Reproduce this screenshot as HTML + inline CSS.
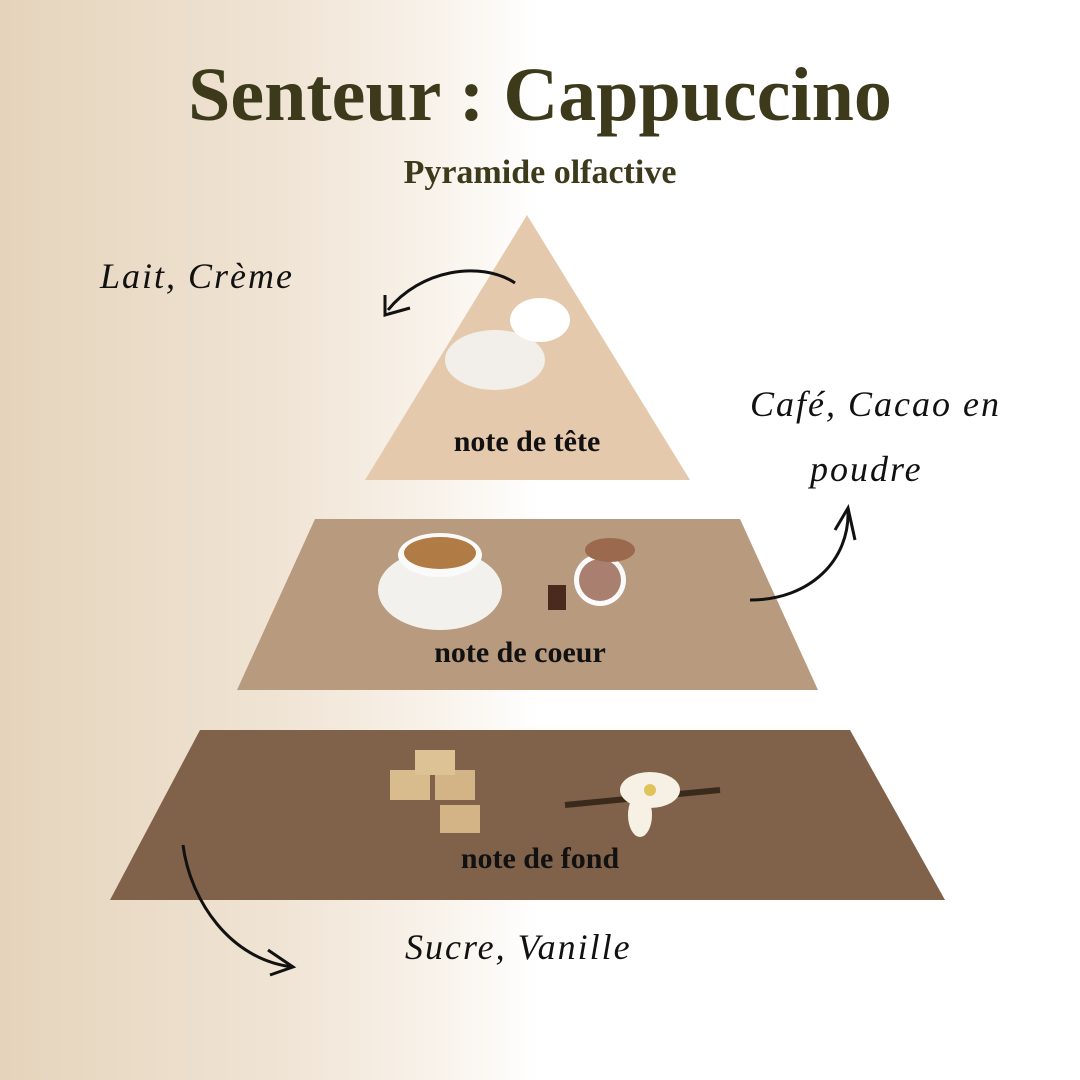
<!DOCTYPE html>
<html><head><meta charset="utf-8"><style>
html,body{margin:0;padding:0}
body{width:1080px;height:1080px;position:relative;overflow:hidden;
background:linear-gradient(to right,#e5d4bb 0%,#efe3d3 25%,#f8f2ea 40%,#ffffff 50%,#ffffff 100%);
font-family:"Liberation Serif",serif}
.t{position:absolute;white-space:nowrap}
.title{left:0;width:1080px;text-align:center;top:52px;font-size:76px;font-weight:bold;color:#3d3a1c}
.sub{left:0;width:1080px;text-align:center;top:154px;font-size:34px;font-weight:bold;color:#3d3a1c}
.note{font-weight:bold;font-size:30px;color:#111;text-align:center;width:400px}
.scr{font-style:italic;font-size:36px;color:#111;letter-spacing:2px;font-family:"Liberation Serif",serif}
</style></head><body>
<div class="t title">Senteur : Cappuccino</div>
<div class="t sub">Pyramide olfactive</div>
<svg width="1080" height="1080" style="position:absolute;left:0;top:0">
<polygon points="527,215 690,480 365,480" fill="#e5c9ad"/>
<polygon points="315,519 740,519 818,690 237,690" fill="#b89a7e"/>
<polygon points="200,730 850,730 945,900 110,900" fill="#80614a"/>
<ellipse cx="495" cy="360" rx="50" ry="30" fill="#f2efea"/>
<ellipse cx="540" cy="320" rx="30" ry="22" fill="#ffffff"/>
<ellipse cx="440" cy="590" rx="62" ry="40" fill="#f3f1ee"/>
<ellipse cx="440" cy="555" rx="42" ry="22" fill="#fafafa"/>
<ellipse cx="440" cy="553" rx="36" ry="16" fill="#b07b45"/>
<circle cx="600" cy="580" r="26" fill="#fafafa"/>
<circle cx="600" cy="580" r="21" fill="#a98070"/>
<rect x="548" y="585" width="18" height="25" fill="#4a2a1c"/>
<ellipse cx="610" cy="550" rx="25" ry="12" fill="#9b6a4e"/>
<rect x="390" y="770" width="40" height="30" fill="#d9bc8e"/>
<rect x="435" y="770" width="40" height="30" fill="#d2b486"/>
<rect x="415" y="750" width="40" height="25" fill="#ddc296"/>
<rect x="440" y="805" width="40" height="28" fill="#d2b486"/>
<line x1="565" y1="805" x2="720" y2="790" stroke="#3a2a1c" stroke-width="6"/>
<ellipse cx="650" cy="790" rx="30" ry="18" fill="#f6f1e4"/>
<ellipse cx="640" cy="815" rx="12" ry="22" fill="#f6f1e4"/>
<circle cx="650" cy="790" r="6" fill="#e2c35a"/>
<g fill="none" stroke="#111" stroke-width="3">
<path d="M515,283 C480,260 420,270 388,310"/>
<path d="M385,295 L385,315 L410,308"/>
<path d="M750,600 C810,600 850,560 848,510"/>
<path d="M835,530 L848,508 L855,540"/>
<path d="M183,845 C190,900 230,960 293,967"/>
<path d="M268,950 L293,967 L270,975"/>
</g>
</svg>
<div class="t note" style="left:327px;top:425px">note de tête</div>
<div class="t note" style="left:320px;top:636px">note de coeur</div>
<div class="t note" style="left:340px;top:842px">note de fond</div>
<div class="t scr" style="left:100px;top:255px">Lait, Crème</div>
<div class="t scr" style="left:750px;top:383px">Café, Cacao en</div>
<div class="t scr" style="left:810px;top:448px">poudre</div>
<div class="t scr" style="left:405px;top:926px">Sucre, Vanille</div>
</body></html>
